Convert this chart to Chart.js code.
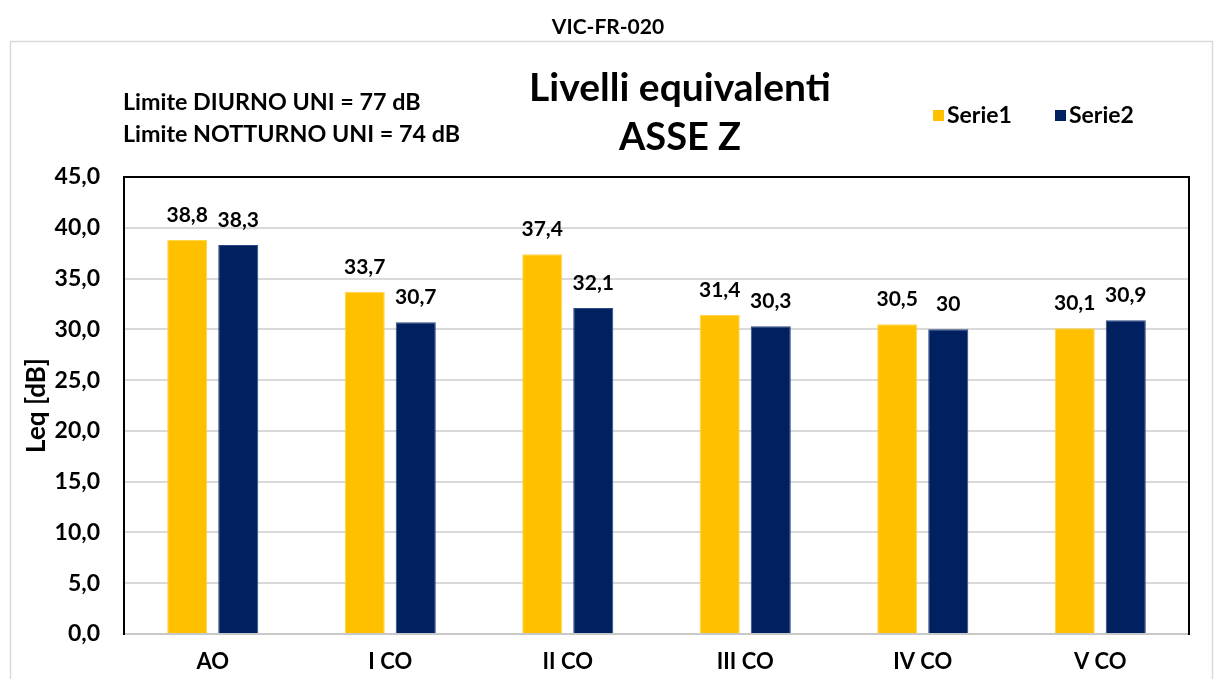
<!DOCTYPE html>
<html>
<head>
<meta charset="utf-8">
<script src="https://cdn.jsdelivr.net/npm/chart.js@4.4.1/dist/chart.umd.min.js"></script>
<style>
  html, body { margin: 0; padding: 0; background: #ffffff; }
  #wrap { width: 1215px; height: 679px; }
</style>
</head>
<body>
<div id="wrap"><canvas id="c" width="1215" height="679"></canvas></div>
<script>
// Measurement points and vibration levels on the Z axis
const categories = ['AO', 'I CO', 'II CO', 'III CO', 'IV CO', 'V CO'];
const serie1 = [38.8, 33.7, 37.4, 31.4, 30.5, 30.1];
const serie2 = [38.3, 30.7, 32.1, 30.3, 30, 30.9];
const seriesNames = ['Serie1', 'Serie2'];
const yTicks = [0, 5, 10, 15, 20, 25, 30, 35, 40, 45];

const sheetTitle = 'VIC-FR-020';
const titleLines = ['Livelli equivalenti', 'ASSE Z'];
const limitLines = ['Limite DIURNO UNI = 77 dB', 'Limite NOTTURNO UNI = 74 dB'];
const yTitle = 'Leq [dB]';

const FONT = 'Lato, "Open Sans", sans-serif';
const W = 'bold';
const YELLOW = '#FFC000';
const NAVY = '#002060';

const fmt = v => String(v).replace('.', ',');

// Header texts, legend, frame and value labels
const decorations = {
  id: 'decorations',
  beforeDraw(chart) {
    const ctx = chart.ctx;
    ctx.save();
    ctx.fillStyle = '#ffffff';
    ctx.fillRect(0, 0, chart.width, chart.height);
    ctx.strokeStyle = '#d9d9d9';
    ctx.lineWidth = 1.5;
    ctx.strokeRect(10.5, 41.5, 1202, 660);
    ctx.restore();
  },
  afterDatasetsDraw(chart) {
    const ctx = chart.ctx;
    const a = chart.chartArea;
    ctx.save();
    // frame on left, top and right
    ctx.strokeStyle = '#000000';
    ctx.lineWidth = 2;
    ctx.beginPath();
    ctx.moveTo(a.left, a.bottom + 1);
    ctx.lineTo(a.left, a.top);
    ctx.lineTo(a.right, a.top);
    ctx.lineTo(a.right, a.bottom + 1);
    ctx.stroke();

    ctx.fillStyle = '#000000';
    ctx.textBaseline = 'middle';

    ctx.textAlign = 'center';
    ctx.font = W + ' 21px ' + FONT;
    ctx.fillText(sheetTitle, 608, 27);

    ctx.font = W + ' 39px ' + FONT;
    ctx.fillText(titleLines[0], 680, 88);
    ctx.font = W + ' 38px ' + FONT;
    ctx.fillText(titleLines[1], 680, 138);

    ctx.textAlign = 'left';
    ctx.font = W + ' 23.3px ' + FONT;
    ctx.fillText(limitLines[0], 123, 102);
    ctx.fillText(limitLines[1], 123, 134);

    // legend
    ctx.font = W + ' 23px ' + FONT;
    const legendX = [933, 1055];
    chart.data.datasets.forEach((ds, i) => {
      ctx.fillStyle = ds.backgroundColor;
      ctx.fillRect(legendX[i], 110, 11, 11);
      ctx.fillStyle = '#000000';
      ctx.fillText(ds.label, legendX[i] + 14, 116);
    });

    // value labels above the bars
    ctx.textAlign = 'center';
    ctx.font = W + ' 21px ' + FONT;
    chart.data.datasets.forEach((ds, i) => {
      const meta = chart.getDatasetMeta(i);
      meta.data.forEach((bar, j) => {
        ctx.fillText(fmt(ds.data[j]), bar.x, bar.y - 25);
      });
    });
    ctx.restore();
  }
};

new Chart(document.getElementById('c'), {
  type: 'bar',
  data: {
    labels: categories,
    datasets: [
      { label: seriesNames[0], data: serie1, backgroundColor: YELLOW, borderColor: '#ffd54a', borderWidth: 1 },
      { label: seriesNames[1], data: serie2, backgroundColor: NAVY, borderColor: '#2a4a85', borderWidth: 1 }
    ]
  },
  options: {
    responsive: false,
    animation: false,
    categoryPercentage: 0.575,
    barPercentage: 0.785,
    layout: { padding: { top: 177, right: 26, left: 0, bottom: 0 } },
    plugins: {
      legend: { display: false },
      title: { display: false },
      tooltip: { enabled: false }
    },
    scales: {
      x: {
        grid: { display: false, drawTicks: false },
        border: { color: '#c8c8c8', width: 2 },
        ticks: { color: '#000000', padding: 15, font: { family: FONT, size: 22, weight: W } },
        afterFit(scale) { scale.height = 45; }
      },
      y: {
        min: 0,
        max: 45,
        afterBuildTicks(scale) { scale.ticks = yTicks.map(v => ({ value: v })); },
        grid: { color: '#d9d9d9', lineWidth: 2, drawTicks: false },
        border: { color: '#000000', width: 2 },
        ticks: {
          color: '#000000',
          padding: 24,
          font: { family: FONT, size: 23, weight: W },
          callback: v => v.toFixed(1).replace('.', ',')
        },
        title: {
          display: true,
          text: yTitle,
          color: '#000000',
          padding: { top: 21, bottom: 0 },
          font: { family: FONT, size: 26, weight: W }
        },
        afterFit(scale) { scale.width = 124; }
      }
    }
  },
  plugins: [decorations]
});
</script>
</body>
</html>
